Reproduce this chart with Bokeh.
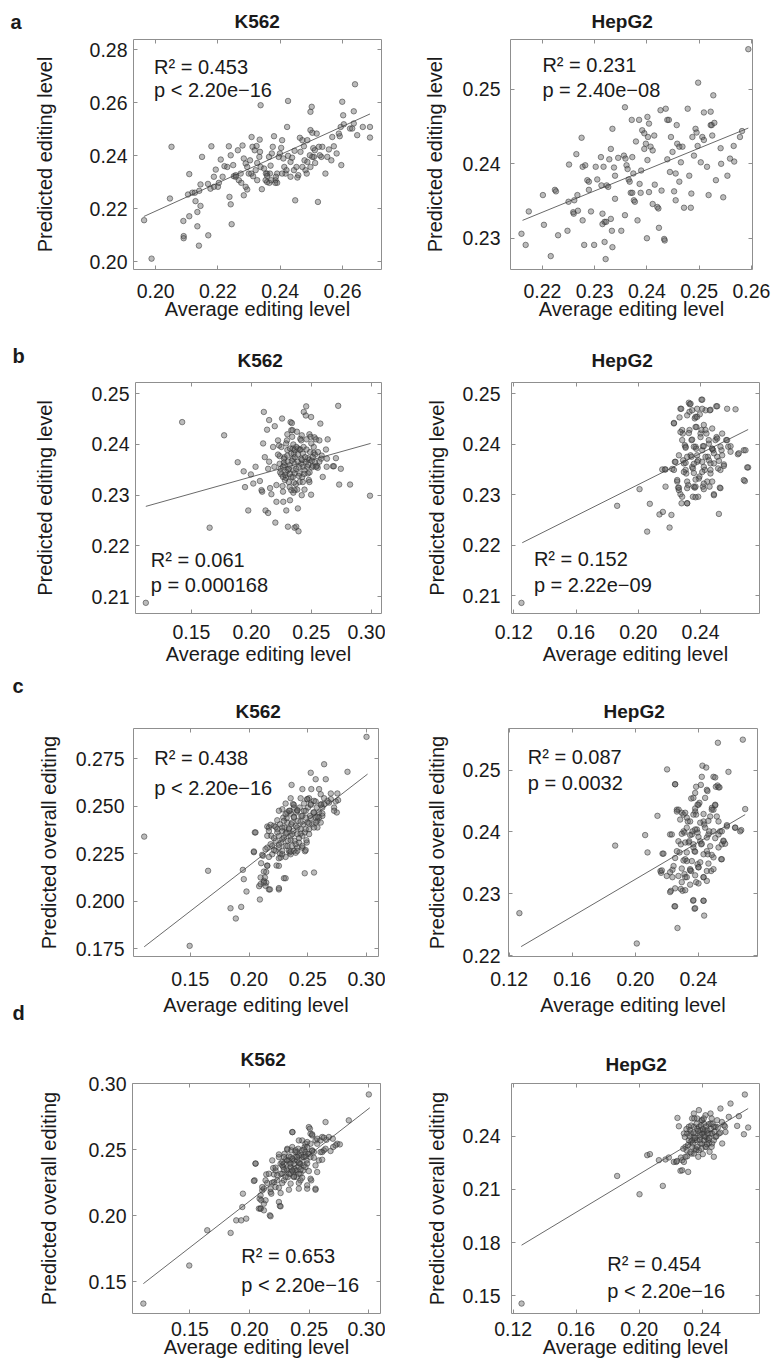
from bokeh.plotting import figure
from bokeh.models import LinearAxis, FixedTicker, PrintfTickFormatter, Label, Range1d
from bokeh.layouts import column, row
from bokeh.embed import file_html
from bokeh.resources import INLINE

FONT = "Liberation Sans"
TXT = "#1a1a1a"
GRAY = "#8f8f8f"

# ---------------- data (x = average editing level, y = predicted) ----------------
a_k562 = [(0.1963,0.2156),(0.1987,0.2011),(0.2051,0.2433),(0.2046,0.2238),(0.2089,0.2153),(0.2090,0.2096),(0.2090,0.2088),
(0.2108,0.2171),(0.2108,0.2330),(0.2104,0.2253),(0.2118,0.2260),(0.2128,0.2228),(0.2134,0.2187),(0.2134,0.2133),(0.2139,0.2060),
(0.2144,0.2210),(0.2144,0.2291),(0.2149,0.2395),(0.2169,0.2099),(0.2168,0.2293),(0.2179,0.2435),(0.2187,0.2320),(0.2193,0.2347),
(0.2200,0.2282),(0.2209,0.2385),(0.2215,0.2320),(0.2221,0.2360),(0.2235,0.2435),(0.2237,0.2244),(0.2241,0.2216),(0.2244,0.2141),
(0.2241,0.2401),(0.2249,0.2364),(0.2251,0.2322),(0.2257,0.2326),(0.2264,0.2420),(0.2273,0.2332),(0.2279,0.2438),(0.2283,0.2389),
(0.2289,0.2370),(0.2294,0.2357),(0.2283,0.2250),(0.2294,0.2272),(0.2303,0.2382),(0.2308,0.2470),(0.2311,0.2433),(0.2313,0.2322),
(0.2321,0.2345),(0.2326,0.2372),(0.2334,0.2460),(0.2333,0.2395),(0.2337,0.2357),(0.2341,0.2273),(0.2337,0.2590),(0.2353,0.2307),
(0.2358,0.2332),(0.2364,0.2395),(0.2369,0.2362),(0.2373,0.2408),(0.2376,0.2433),(0.2380,0.2473),(0.2367,0.2332),(0.2358,0.2300),
(0.2385,0.2307),(0.2390,0.2332),(0.2395,0.2395),(0.2399,0.2408),(0.2406,0.2458),(0.2410,0.2389),(0.2413,0.2357),(0.2417,0.2332),
(0.2390,0.2297),(0.2422,0.2508),(0.2425,0.2606),(0.2425,0.2399),(0.2433,0.2376),(0.2438,0.2392),(0.2444,0.2345),(0.2446,0.2418),
(0.2452,0.2357),(0.2458,0.2326),(0.2448,0.2231),(0.2463,0.2467),(0.2465,0.2414),(0.2471,0.2458),(0.2476,0.2435),(0.2478,0.2382),
(0.2481,0.2345),(0.2487,0.2458),(0.2495,0.2401),(0.2497,0.2496),(0.2497,0.2565),(0.2501,0.2584),(0.2503,0.2486),(0.2506,0.2428),
(0.2511,0.2420),(0.2517,0.2483),(0.2497,0.2357),(0.2512,0.2372),(0.2524,0.2433),(0.2532,0.2395),(0.2535,0.2433),(0.2521,0.2225),
(0.2545,0.2332),(0.2556,0.2423),(0.2567,0.2470),(0.2572,0.2435),(0.2564,0.2382),(0.2581,0.2408),(0.2591,0.2473),(0.2596,0.2364),
(0.2604,0.2518),(0.2624,0.2502),(0.2636,0.2521),(0.2640,0.2669),(0.2599,0.2603),(0.2602,0.2552),(0.2636,0.2567),(0.2647,0.2477),
(0.2665,0.2508),(0.2688,0.2508),(0.2688,0.2468),(0.2631,0.2502),(0.2267,0.2307),(0.2275,0.2297),(0.2299,0.2332),(0.2307,0.2332),
(0.2318,0.2420),(0.2324,0.2436),(0.2335,0.2414),(0.2348,0.2351),(0.2354,0.2332),(0.2365,0.2297),(0.2358,0.2323),(0.2386,0.2320),
(0.2403,0.2429),(0.2420,0.2345),(0.2384,0.2297),(0.2455,0.2317),(0.2485,0.2332),(0.2508,0.2395),(0.2527,0.2401),(0.2503,0.2395),
(0.2551,0.2395),(0.2588,0.2483),(0.2594,0.2508),(0.2187,0.2282),(0.2203,0.2297),(0.2230,0.2357),(0.2126,0.2260),(0.2140,0.2267),
(0.2176,0.2275),(0.2257,0.2320),(0.2289,0.2282),(0.2326,0.2307),(0.2371,0.2307),(0.2406,0.2332),(0.2433,0.2320),(0.2471,0.2357),
(0.2487,0.2376)]
a_k562_fit_x = [0.1962, 0.2688]
a_k562_fit_y = [0.2170, 0.2557]

a_hepg2 = [(0.2160,0.2306),(0.2168,0.2291),(0.2174,0.2336),(0.2201,0.2358),(0.2203,0.2318),(0.2216,0.2276),(0.2224,0.2365),
(0.2226,0.2363),(0.2230,0.2304),(0.2248,0.2310),(0.2250,0.2349),(0.2251,0.2399),(0.2259,0.2335),(0.2260,0.2333),(0.2261,0.2351),
(0.2265,0.2413),(0.2267,0.2358),(0.2268,0.2337),(0.2275,0.2435),(0.2277,0.2396),(0.2282,0.2398),(0.2277,0.2324),(0.2280,0.2291),
(0.2286,0.2378),(0.2289,0.2376),(0.2289,0.2365),(0.2293,0.2336),(0.2299,0.2291),(0.2302,0.2396),(0.2305,0.2379),(0.2312,0.2409),
(0.2313,0.2371),(0.2315,0.2333),(0.2315,0.2319),(0.2317,0.2396),(0.2319,0.2322),(0.2322,0.2322),(0.2319,0.2295),(0.2321,0.2272),
(0.2323,0.2371),(0.2326,0.2369),(0.2328,0.2406),(0.2331,0.2420),(0.2334,0.2447),(0.2331,0.2326),(0.2333,0.2310),(0.2334,0.2288),
(0.2337,0.2395),(0.2339,0.2384),(0.2339,0.2353),(0.2345,0.2408),(0.2351,0.2310),(0.2358,0.2476),(0.2356,0.2411),(0.2359,0.2407),
(0.2358,0.2331),(0.2361,0.2398),(0.2363,0.2393),(0.2365,0.2379),(0.2367,0.2376),(0.2369,0.2361),(0.2372,0.2361),(0.2371,0.2459),
(0.2372,0.2409),(0.2374,0.2387),(0.2375,0.2351),(0.2377,0.2349),(0.2379,0.2430),(0.2382,0.2324),(0.2385,0.2459),(0.2386,0.2373),
(0.2388,0.2361),(0.2389,0.2391),(0.2391,0.2445),(0.2395,0.2441),(0.2395,0.2420),(0.2398,0.2427),(0.2401,0.2463),(0.2401,0.2405),
(0.2402,0.2436),(0.2404,0.2454),(0.2404,0.2362),(0.2400,0.2300),(0.2407,0.2423),(0.2411,0.2418),(0.2411,0.2346),(0.2414,0.2438),
(0.2415,0.2372),(0.2420,0.2342),(0.2422,0.2340),(0.2423,0.2314),(0.2426,0.2472),(0.2428,0.2364),(0.2433,0.2299),(0.2434,0.2297),
(0.2436,0.2474),(0.2439,0.2459),(0.2442,0.2459),(0.2439,0.2406),(0.2444,0.2389),(0.2446,0.2436),(0.2449,0.2416),(0.2452,0.2363),
(0.2455,0.2351),(0.2455,0.2387),(0.2457,0.2452),(0.2458,0.2427),(0.2462,0.2423),(0.2462,0.2376),(0.2465,0.2402),(0.2468,0.2423),
(0.2471,0.2341),(0.2484,0.2341),(0.2478,0.2474),(0.2481,0.2384),(0.2485,0.2360),(0.2487,0.2436),(0.2490,0.2411),(0.2493,0.2447),
(0.2495,0.2442),(0.2497,0.2424),(0.2498,0.2509),(0.2503,0.2402),(0.2506,0.2436),(0.2509,0.2432),(0.2509,0.2469),(0.2515,0.2396),
(0.2518,0.2358),(0.2522,0.2470),(0.2522,0.2452),(0.2524,0.2452),(0.2525,0.2438),(0.2527,0.2492),(0.2529,0.2455),(0.2532,0.2378),
(0.2541,0.2421),(0.2542,0.2400),(0.2546,0.2355),(0.2554,0.2384),(0.2559,0.2407),(0.2566,0.2424),(0.2567,0.2403),(0.2578,0.2436),
(0.2582,0.2444),(0.2594,0.2554)]
a_hepg2_fit_x = [0.2162, 0.2594]
a_hepg2_fit_y = [0.2324, 0.2448]

b_k562 = [(0.1120,0.2088),(0.1423,0.2444),(0.1652,0.2236),(0.1773,0.2418),(0.1886,0.2365),(0.1936,0.2347),(0.1947,0.2316),
(0.1974,0.2270),(0.1996,0.2341),(0.2016,0.2323),(0.2035,0.2356),(0.2071,0.2328),(0.2085,0.2310),(0.2090,0.2307),(0.2098,0.2402),
(0.2104,0.2464),(0.2112,0.2375),(0.2118,0.2270),(0.2131,0.2429),(0.2140,0.2265),(0.2140,0.2352),(0.2148,0.2366),(0.2148,0.2448),
(0.2156,0.2314),(0.2167,0.2302),(0.2181,0.2395),(0.2192,0.2356),(0.2195,0.2436),(0.2200,0.2246),(0.2209,0.2320),(0.2209,0.2287),
(0.2222,0.2408),(0.2231,0.2398),(0.2236,0.2362),(0.2244,0.2352),(0.2250,0.2341),(0.2256,0.2451),(0.2264,0.2307),(0.2266,0.2287),
(0.2272,0.2364),(0.2277,0.2359),(0.2283,0.2340),(0.2288,0.2334),(0.2291,0.2270),(0.2297,0.2408),(0.2300,0.2389),(0.2305,0.2238),
(0.2311,0.2326),(0.2319,0.2316),(0.2322,0.2290),(0.2327,0.2444),(0.2338,0.2442),(0.2333,0.2428),(0.2344,0.2428),(0.2346,0.2392),
(0.2355,0.2382),(0.2352,0.2349),(0.2360,0.2343),(0.2360,0.2236),(0.2374,0.2238),(0.2371,0.2322),(0.2382,0.2311),(0.2388,0.2274),
(0.2393,0.2229),(0.2402,0.2390),(0.2408,0.2411),(0.2415,0.2408),(0.2415,0.2362),(0.2429,0.2356),(0.2424,0.2336),(0.2437,0.2464),
(0.2443,0.2311),(0.2454,0.2457),(0.2457,0.2475),(0.2465,0.2356),(0.2471,0.2373),(0.2479,0.2330),(0.2484,0.2326),(0.2484,0.2420),
(0.2493,0.2415),(0.2498,0.2454),(0.2498,0.2301),(0.2506,0.2355),(0.2512,0.2358),(0.2520,0.2383),(0.2531,0.2380),(0.2526,0.2414),
(0.2539,0.2410),(0.2548,0.2358),(0.2553,0.2354),(0.2567,0.2408),(0.2575,0.2441),(0.2581,0.2372),(0.2586,0.2378),(0.2595,0.2336),
(0.2622,0.2390),(0.2628,0.2356),(0.2630,0.2372),(0.2636,0.2410),(0.2680,0.2357),(0.2688,0.2357),(0.2705,0.2373),(0.2724,0.2476),
(0.2732,0.2321),(0.2746,0.2352),(0.2823,0.2321),(0.2989,0.2299),(0.2236,0.2377),(0.2264,0.2356),(0.2277,0.2375),(0.2305,0.2366),
(0.2333,0.2382),(0.2346,0.2372),(0.2360,0.2362),(0.2374,0.2352),(0.2388,0.2366),(0.2402,0.2343),(0.2415,0.2372),(0.2429,0.2382),
(0.2443,0.2349),(0.2457,0.2366),(0.2471,0.2343),(0.2333,0.2336),(0.2305,0.2349),(0.2291,0.2346),(0.2264,0.2336),(0.2360,0.2389),
(0.2388,0.2392),(0.2319,0.2359),(0.2346,0.2336),(0.2402,0.2326),(0.2429,0.2326),(0.2484,0.2370),(0.2512,0.2375),(0.2539,0.2356),
(0.2567,0.2366),(0.2333,0.2310),(0.2360,0.2310)]
b_k562_core = [(0.2222,0.2380),(0.2250,0.2395),(0.2272,0.2372),(0.2290,0.2402),(0.2300,0.2378),(0.2311,0.2352),(0.2322,0.2392),
(0.2338,0.2368),(0.2350,0.2400),(0.2362,0.2375),(0.2375,0.2395),(0.2388,0.2380),(0.2398,0.2355),(0.2410,0.2390),(0.2422,0.2370),
(0.2435,0.2395),(0.2448,0.2375),(0.2460,0.2390),(0.2475,0.2360),(0.2490,0.2385),(0.2505,0.2368),(0.2520,0.2395),(0.2240,0.2345),
(0.2280,0.2330),(0.2320,0.2342),(0.2355,0.2325),(0.2395,0.2338),(0.2440,0.2342),(0.2485,0.2345),(0.2530,0.2365),(0.2300,0.2420),
(0.2340,0.2415),(0.2380,0.2425),(0.2420,0.2418),(0.2460,0.2410),(0.2500,0.2402),(0.2260,0.2318),(0.2350,0.2305),(0.2420,0.2300),
(0.2555,0.2385)]
b_k562_fit_x = [0.1120, 0.2994]
b_k562_fit_y = [0.2278, 0.2402]

b_hepg2 = [(0.1249,0.2086),(0.1864,0.2278),(0.2008,0.2311),(0.2074,0.2282),(0.2057,0.2227),(0.2136,0.2261),(0.2158,0.2266),
(0.2171,0.2350),(0.2154,0.2350),(0.2201,0.2235),(0.2213,0.2260),(0.2229,0.2442),(0.2218,0.2351),(0.2235,0.2365),(0.2250,0.2326),
(0.2256,0.2314),(0.2261,0.2309),(0.2265,0.2453),(0.2271,0.2470),(0.2271,0.2301),(0.2278,0.2283),(0.2282,0.2428),(0.2286,0.2421),
(0.2288,0.2368),(0.2293,0.2362),(0.2299,0.2398),(0.2304,0.2395),(0.2304,0.2349),(0.2308,0.2342),(0.2314,0.2283),(0.2321,0.2319),
(0.2325,0.2482),(0.2331,0.2479),(0.2329,0.2428),(0.2329,0.2464),(0.2336,0.2378),(0.2342,0.2375),(0.2342,0.2408),(0.2346,0.2355),
(0.2351,0.2352),(0.2351,0.2296),(0.2357,0.2316),(0.2363,0.2314),(0.2363,0.2451),(0.2368,0.2454),(0.2368,0.2395),(0.2372,0.2391),
(0.2374,0.2434),(0.2378,0.2470),(0.2378,0.2365),(0.2385,0.2368),(0.2385,0.2296),(0.2389,0.2332),(0.2393,0.2336),(0.2400,0.2421),
(0.2406,0.2428),(0.2406,0.2488),(0.2411,0.2388),(0.2415,0.2396),(0.2415,0.2316),(0.2421,0.2355),(0.2428,0.2349),(0.2432,0.2467),
(0.2432,0.2428),(0.2438,0.2421),(0.2443,0.2326),(0.2447,0.2375),(0.2454,0.2368),(0.2454,0.2401),(0.2458,0.2316),(0.2464,0.2468),
(0.2464,0.2349),(0.2475,0.2391),(0.2481,0.2388),(0.2486,0.2301),(0.2486,0.2362),(0.2496,0.2408),(0.2503,0.2414),(0.2501,0.2475),
(0.2507,0.2375),(0.2513,0.2352),(0.2518,0.2262),(0.2524,0.2314),(0.2535,0.2388),(0.2550,0.2360),(0.2565,0.2408),(0.2578,0.2395),
(0.2593,0.2396),(0.2625,0.2469),(0.2640,0.2380),(0.2678,0.2388),(0.2685,0.2327),(0.2706,0.2354)]
b_hepg2_core = [(0.2336,0.2480),(0.2411,0.2488),(0.2276,0.2470),(0.2346,0.2467),(0.2411,0.2470),(0.2460,0.2467),(0.2507,0.2475),
(0.2571,0.2470),(0.2229,0.2441),(0.2314,0.2457),(0.2378,0.2454),(0.2395,0.2459),(0.2271,0.2424),(0.2325,0.2422),(0.2368,0.2434),
(0.2421,0.2438),(0.2475,0.2431),(0.2539,0.2421),(0.2282,0.2408),(0.2346,0.2409),(0.2400,0.2414),(0.2453,0.2408),(0.2507,0.2411),
(0.2571,0.2408),(0.2304,0.2393),(0.2357,0.2395),(0.2421,0.2396),(0.2475,0.2391),(0.2528,0.2395),(0.2261,0.2378),(0.2314,0.2375),
(0.2378,0.2378),(0.2432,0.2375),(0.2486,0.2382),(0.2539,0.2378),(0.2593,0.2385),(0.2646,0.2382),(0.2689,0.2388),(0.2239,0.2365),
(0.2304,0.2363),(0.2357,0.2361),(0.2411,0.2365),(0.2464,0.2362),(0.2518,0.2367),(0.2550,0.2357),(0.2175,0.2350),(0.2229,0.2349),
(0.2293,0.2345),(0.2357,0.2343),(0.2411,0.2345),(0.2464,0.2342),(0.2528,0.2349),(0.2700,0.2354),(0.2250,0.2329),(0.2314,0.2326),
(0.2368,0.2330),(0.2421,0.2322),(0.2475,0.2326),(0.2175,0.2316),(0.2261,0.2314),(0.2314,0.2313),(0.2368,0.2316),(0.2421,0.2311),
(0.2528,0.2313),(0.2678,0.2329),(0.2282,0.2296),(0.2368,0.2295),(0.2486,0.2299),(0.2314,0.2283)]
b_hepg2_fit_x = [0.1254, 0.2706]
b_hepg2_fit_y = [0.2205, 0.2429]

c_k562 = [(0.1107,0.2339),(0.1494,0.1764),(0.1651,0.2159),(0.1842,0.1962),(0.1933,0.1969),(0.1887,0.1908),(0.1947,0.2164),
(0.1955,0.2115),(0.1978,0.2050),(0.2049,0.2361),(0.2041,0.2257),(0.2092,0.2008),(0.2086,0.2078),(0.2098,0.2089),(0.2103,0.2199),
(0.2118,0.2238),(0.2126,0.2106),(0.2135,0.2124),(0.2140,0.2080),(0.2146,0.2097),(0.2146,0.2153),(0.2155,0.2187),(0.2169,0.2061),
(0.2178,0.2061),(0.2155,0.2392),(0.2197,0.2290),(0.2234,0.2187),(0.2254,0.2061),(0.2263,0.2250),(0.2269,0.2229),(0.2297,0.2120),
(0.2320,0.2436),(0.2354,0.2460),(0.2362,0.2611),(0.2382,0.2264),(0.2397,0.2254),(0.2411,0.2475),(0.2454,0.2589),(0.2474,0.2146),
(0.2476,0.2262),(0.2496,0.2536),(0.2511,0.2541),(0.2525,0.2675),(0.2553,0.2150),(0.2530,0.2589),(0.2567,0.2641),(0.2596,0.2589),
(0.2639,0.2720),(0.2653,0.2641),(0.2616,0.2510),(0.2624,0.2492),(0.2681,0.2518),(0.2696,0.2536),(0.2724,0.2492),(0.2747,0.2466),
(0.2752,0.2566),(0.2758,0.2531),(0.2838,0.2680),(0.3000,0.2864),(0.2610,0.2562),(0.2596,0.2439),(0.2582,0.2422),(0.2169,0.2387),
(0.2189,0.2343),(0.2212,0.2396),(0.2226,0.2317),(0.2240,0.2378),(0.2254,0.2343),(0.2263,0.2404),(0.2274,0.2308),(0.2283,0.2369),
(0.2291,0.2439),(0.2297,0.2334),(0.2303,0.2387),(0.2311,0.2290),(0.2320,0.2361),(0.2325,0.2413),(0.2331,0.2317),(0.2340,0.2378),
(0.2345,0.2255),(0.2348,0.2475),(0.2354,0.2343),(0.2360,0.2404),(0.2368,0.2290),(0.2374,0.2510),(0.2377,0.2369),(0.2382,0.2439),
(0.2388,0.2317),(0.2397,0.2396),(0.2402,0.2466),(0.2411,0.2352),(0.2417,0.2422),(0.2425,0.2308),(0.2431,0.2492),(0.2439,0.2378),
(0.2445,0.2448),(0.2454,0.2343),(0.2462,0.2404),(0.2468,0.2475),(0.2474,0.2361),(0.2482,0.2439),(0.2491,0.2308),(0.2496,0.2413),
(0.2502,0.2492),(0.2511,0.2378),(0.2519,0.2448),(0.2525,0.2510),(0.2539,0.2404),(0.2548,0.2466),(0.2553,0.2527),(0.2567,0.2439),
(0.2576,0.2492),(0.2582,0.2387),(0.2596,0.2466),(0.2624,0.2448),(0.2639,0.2510),(0.2667,0.2527),(0.2340,0.2264),(0.2354,0.2246),
(0.2283,0.2246),(0.2254,0.2281),(0.2226,0.2264),(0.2197,0.2246),(0.2155,0.2281),(0.2411,0.2281),(0.2454,0.2281),(0.2325,0.2466),
(0.2382,0.2492)]
c_k562_core = [(0.2696,0.2566),(0.2354,0.2541),(0.2439,0.2541),(0.2496,0.2536),(0.2567,0.2524),(0.2639,0.2541),(0.2738,0.2524),
(0.2311,0.2513),(0.2382,0.2506),(0.2468,0.2513),(0.2525,0.2506),(0.2610,0.2506),(0.2283,0.2483),(0.2340,0.2475),(0.2411,0.2478),
(0.2482,0.2475),(0.2553,0.2466),(0.2624,0.2461),(0.2724,0.2475),(0.2254,0.2475),(0.2311,0.2457),(0.2382,0.2443),(0.2454,0.2448),
(0.2525,0.2436),(0.2582,0.2443),(0.2240,0.2425),(0.2297,0.2422),(0.2368,0.2413),(0.2439,0.2418),(0.2511,0.2408),(0.2567,0.2413),
(0.2183,0.2401),(0.2226,0.2390),(0.2283,0.2387),(0.2340,0.2383),(0.2411,0.2387),(0.2482,0.2378),(0.2553,0.2387),(0.2610,0.2413),
(0.2169,0.2369),(0.2240,0.2361),(0.2311,0.2355),(0.2368,0.2352),(0.2439,0.2355),(0.2511,0.2352),(0.2055,0.2361),(0.2155,0.2343),
(0.2212,0.2331),(0.2283,0.2325),(0.2354,0.2320),(0.2425,0.2331),(0.2488,0.2320),(0.2183,0.2299),(0.2254,0.2296),(0.2326,0.2290),
(0.2397,0.2299),(0.2454,0.2290),(0.2140,0.2273),(0.2212,0.2268),(0.2283,0.2264),(0.2354,0.2261),(0.2411,0.2264),(0.2482,0.2268),
(0.2041,0.2261),(0.2112,0.2243),(0.2169,0.2232),(0.2254,0.2225),(0.2311,0.2232),(0.2155,0.2185),(0.2254,0.2185),(0.2126,0.2155),
(0.2098,0.2124),(0.2311,0.2120),(0.2126,0.2097),(0.2254,0.2068)]
c_k562_fit_x = [0.1107, 0.3009]
c_k562_fit_y = [0.1759, 0.2668]

c_hepg2 = [(0.1265,0.2269),(0.1872,0.2378),(0.2009,0.2220),(0.2062,0.2395),(0.2077,0.2367),(0.2140,0.2426),(0.2172,0.2365),
(0.2163,0.2334),(0.2159,0.2337),(0.2201,0.2501),(0.2220,0.2396),(0.2225,0.2305),(0.2235,0.2327),(0.2235,0.2339),(0.2248,0.2280),
(0.2252,0.2477),(0.2263,0.2436),(0.2274,0.2436),(0.2267,0.2245),(0.2273,0.2385),(0.2280,0.2367),(0.2288,0.2380),(0.2288,0.2308),
(0.2299,0.2305),(0.2294,0.2431),(0.2305,0.2428),(0.2305,0.2401),(0.2311,0.2399),(0.2311,0.2332),(0.2316,0.2327),(0.2316,0.2356),
(0.2326,0.2353),(0.2326,0.2423),(0.2332,0.2417),(0.2337,0.2383),(0.2341,0.2385),(0.2347,0.2340),(0.2354,0.2337),(0.2354,0.2454),
(0.2358,0.2396),(0.2362,0.2401),(0.2366,0.2289),(0.2368,0.2375),(0.2375,0.2369),(0.2375,0.2276),(0.2379,0.2463),(0.2379,0.2433),
(0.2385,0.2428),(0.2385,0.2319),(0.2390,0.2404),(0.2394,0.2399),(0.2394,0.2348),(0.2400,0.2343),(0.2400,0.2444),(0.2406,0.2447),
(0.2411,0.2385),(0.2417,0.2380),(0.2415,0.2476),(0.2421,0.2489),(0.2425,0.2507),(0.2432,0.2417),(0.2436,0.2412),(0.2432,0.2327),
(0.2432,0.2289),(0.2436,0.2265),(0.2442,0.2455),(0.2449,0.2504),(0.2453,0.2468),(0.2453,0.2369),(0.2459,0.2364),(0.2463,0.2396),
(0.2468,0.2401),(0.2474,0.2425),(0.2480,0.2337),(0.2485,0.2439),(0.2495,0.2436),(0.2495,0.2489),(0.2506,0.2488),(0.2495,0.2359),
(0.2506,0.2444),(0.2510,0.2473),(0.2527,0.2472),(0.2523,0.2544),(0.2527,0.2396),(0.2537,0.2401),(0.2544,0.2356),(0.2548,0.2380),
(0.2559,0.2385),(0.2569,0.2381),(0.2580,0.2409),(0.2590,0.2497),(0.2632,0.2407),(0.2671,0.2403),(0.2681,0.2549),(0.2696,0.2437)]
c_hepg2_core = [(0.2252,0.2477),(0.2385,0.2473),(0.2457,0.2466),(0.2521,0.2475),(0.2533,0.2472),(0.2368,0.2455),(0.2394,0.2444),
(0.2379,0.2438),(0.2506,0.2443),(0.2484,0.2436),(0.2263,0.2433),(0.2316,0.2431),(0.2368,0.2428),(0.2432,0.2429),(0.2516,0.2425),
(0.2284,0.2420),(0.2347,0.2417),(0.2411,0.2415),(0.2463,0.2418),(0.2527,0.2417),(0.2580,0.2411),(0.2633,0.2407),(0.2664,0.2401),
(0.2326,0.2407),(0.2379,0.2404),(0.2442,0.2407),(0.2495,0.2401),(0.2548,0.2401),(0.2231,0.2396),(0.2294,0.2397),(0.2347,0.2395),
(0.2400,0.2392),(0.2453,0.2391),(0.2506,0.2390),(0.2558,0.2386),(0.2316,0.2383),(0.2368,0.2380),(0.2421,0.2381),(0.2474,0.2377),
(0.2527,0.2375),(0.2263,0.2369),(0.2326,0.2367),(0.2379,0.2368),(0.2432,0.2364),(0.2484,0.2363),(0.2548,0.2356),(0.2178,0.2365),
(0.2252,0.2358),(0.2305,0.2354),(0.2358,0.2353),(0.2411,0.2351),(0.2463,0.2349),(0.2242,0.2345),(0.2294,0.2341),(0.2347,0.2338),
(0.2400,0.2343),(0.2453,0.2337),(0.2495,0.2340),(0.2168,0.2338),(0.2220,0.2335),(0.2199,0.2329),(0.2273,0.2329),(0.2326,0.2327),
(0.2379,0.2330),(0.2432,0.2327),(0.2294,0.2319),(0.2347,0.2315),(0.2400,0.2317),(0.2453,0.2321),(0.2252,0.2309),(0.2316,0.2306),
(0.2220,0.2303),(0.2368,0.2290),(0.2432,0.2289),(0.2252,0.2280),(0.2379,0.2277)]
c_hepg2_fit_x = [0.1276, 0.2696]
c_hepg2_fit_y = [0.2215, 0.2428]

d_k562 = [(0.1109,0.1336),(0.1494,0.1624),(0.1645,0.1891),(0.1841,0.1871),(0.1888,0.1966),(0.1930,0.1966),(0.1972,0.1979),
(0.1944,0.2168),(0.1939,0.2067),(0.2042,0.2269),(0.2050,0.2395),(0.2078,0.2055),(0.2092,0.2055),(0.2084,0.2130),(0.2098,0.2118),
(0.2106,0.2193),(0.2120,0.2206),(0.2120,0.2092),(0.2140,0.2314),(0.2148,0.2249),(0.2170,0.2004),(0.2176,0.2181),(0.2182,0.2168),
(0.2190,0.2251),(0.2198,0.2362),(0.2204,0.2314),(0.2218,0.2344),(0.2218,0.2218),(0.2254,0.2075),(0.2232,0.2269),(0.2246,0.2445),
(0.2260,0.2395),(0.2274,0.2319),(0.2282,0.2370),(0.2288,0.2269),(0.2293,0.2470),(0.2302,0.2425),(0.2310,0.2357),(0.2316,0.2508),
(0.2321,0.2294),(0.2330,0.2319),(0.2338,0.2395),(0.2344,0.2445),(0.2349,0.2496),(0.2358,0.2521),(0.2360,0.2634),(0.2366,0.2332),
(0.2372,0.2357),(0.2377,0.2420),(0.2385,0.2445),(0.2394,0.2294),(0.2399,0.2483),(0.2408,0.2508),(0.2413,0.2370),(0.2422,0.2395),
(0.2427,0.2269),(0.2433,0.2458),(0.2441,0.2445),(0.2441,0.2571),(0.2450,0.2344),(0.2455,0.2382),(0.2461,0.2521),(0.2469,0.2546),
(0.2478,0.2420),(0.2483,0.2206),(0.2489,0.2470),(0.2497,0.2672),(0.2506,0.2660),(0.2511,0.2622),(0.2525,0.2609),(0.2517,0.2269),
(0.2525,0.2496),(0.2539,0.2483),(0.2553,0.2206),(0.2553,0.2571),(0.2567,0.2584),(0.2581,0.2420),(0.2595,0.2571),(0.2609,0.2597),
(0.2609,0.2483),(0.2623,0.2496),(0.2637,0.2710),(0.2645,0.2576),(0.2665,0.2597),(0.2701,0.2521),(0.2735,0.2546),(0.2757,0.2541),
(0.2832,0.2723),(0.3000,0.2919),(0.2260,0.2319),(0.2288,0.2395),(0.2316,0.2344),(0.2330,0.2420),(0.2344,0.2370),(0.2358,0.2433),
(0.2372,0.2395),(0.2385,0.2344),(0.2399,0.2420),(0.2413,0.2458),(0.2427,0.2395),(0.2441,0.2496),(0.2455,0.2445),(0.2469,0.2483),
(0.2483,0.2521),(0.2497,0.2470),(0.2511,0.2546),(0.2316,0.2420),(0.2344,0.2319),(0.2372,0.2294),(0.2399,0.2344),(0.2288,0.2445),
(0.2274,0.2382),(0.2427,0.2319),(0.2385,0.2483),(0.2413,0.2319),(0.2469,0.2370),(0.2511,0.2445)]
d_k562_core = [(0.2358,0.2634),(0.2525,0.2617),(0.2623,0.2592),(0.2698,0.2584),(0.2413,0.2571),(0.2483,0.2559),(0.2567,0.2546),
(0.2721,0.2534),(0.2637,0.2508),(0.2316,0.2501),(0.2385,0.2496),(0.2455,0.2501),(0.2525,0.2491),(0.2595,0.2483),(0.2679,0.2491),
(0.2246,0.2465),(0.2330,0.2450),(0.2399,0.2445),(0.2469,0.2450),(0.2539,0.2440),(0.2609,0.2425),(0.2190,0.2420),(0.2274,0.2407),
(0.2344,0.2397),(0.2413,0.2402),(0.2483,0.2397),(0.2553,0.2382),(0.2050,0.2397),(0.2218,0.2365),(0.2288,0.2350),(0.2358,0.2344),
(0.2427,0.2350),(0.2497,0.2339),(0.2567,0.2332),(0.2162,0.2319),(0.2232,0.2307),(0.2302,0.2294),(0.2372,0.2299),(0.2441,0.2289),
(0.2511,0.2281),(0.2134,0.2269),(0.2204,0.2256),(0.2274,0.2249),(0.2344,0.2244),(0.2413,0.2249),(0.2483,0.2231),(0.2036,0.2264),
(0.2106,0.2218),(0.2176,0.2206),(0.2246,0.2213),(0.2330,0.2198),(0.2413,0.2206),(0.2553,0.2198),(0.2260,0.2173),(0.2092,0.2155),
(0.2134,0.2118),(0.2246,0.2105),(0.2092,0.2055),(0.2120,0.2042),(0.2260,0.2072),(0.2176,0.1997)]
d_k562_fit_x = [0.1109, 0.3008]
d_k562_fit_y = [0.1487, 0.2818]

d_hepg2 = [(0.1253,0.1457),(0.1860,0.2176),(0.2002,0.2073),(0.2051,0.2293),(0.2068,0.2299),(0.2150,0.2120),(0.2125,0.2265),
(0.2167,0.2269),(0.2188,0.2280),(0.2220,0.2255),(0.2235,0.2255),(0.2243,0.2503),(0.2252,0.2456),(0.2262,0.2205),(0.2273,0.2208),
(0.2273,0.2265),(0.2284,0.2255),(0.2284,0.2415),(0.2290,0.2396),(0.2294,0.2340),(0.2301,0.2321),(0.2305,0.2287),(0.2311,0.2199),
(0.2315,0.2453),(0.2322,0.2434),(0.2326,0.2368),(0.2332,0.2302),(0.2336,0.2500),(0.2347,0.2528),(0.2347,0.2396),(0.2353,0.2377),
(0.2358,0.2330),(0.2362,0.2321),(0.2368,0.2443),(0.2375,0.2284),(0.2379,0.2547),(0.2383,0.2415),(0.2389,0.2396),(0.2396,0.2490),
(0.2400,0.2359),(0.2404,0.2299),(0.2411,0.2424),(0.2417,0.2434),(0.2421,0.2518),(0.2425,0.2340),(0.2432,0.2387),(0.2438,0.2377),
(0.2442,0.2468),(0.2447,0.2312),(0.2453,0.2528),(0.2453,0.2415),(0.2463,0.2359),(0.2474,0.2377),(0.2474,0.2284),(0.2485,0.2453),
(0.2495,0.2490),(0.2506,0.2415),(0.2516,0.2556),(0.2527,0.2359),(0.2538,0.2462),(0.2548,0.2424),(0.2569,0.2509),(0.2580,0.2584),
(0.2622,0.2458),(0.2633,0.2513),(0.2665,0.2411),(0.2671,0.2635),(0.2692,0.2449),(0.2305,0.2415),(0.2315,0.2377),(0.2326,0.2415),
(0.2336,0.2377),(0.2347,0.2453),(0.2358,0.2415),(0.2368,0.2377),(0.2379,0.2453),(0.2389,0.2359),(0.2400,0.2415),(0.2411,0.2471),
(0.2421,0.2396),(0.2432,0.2434),(0.2442,0.2359),(0.2453,0.2471),(0.2463,0.2415),(0.2474,0.2453),(0.2485,0.2396),(0.2336,0.2340),
(0.2379,0.2321),(0.2400,0.2490),(0.2368,0.2500),(0.2421,0.2340),(0.2389,0.2434),(0.2347,0.2302),(0.2411,0.2377),(0.2294,0.2284)]
d_hepg2_core = [(0.2300,0.2440),(0.2320,0.2400),(0.2330,0.2460),(0.2345,0.2420),(0.2355,0.2390),(0.2365,0.2470),(0.2375,0.2430),
(0.2385,0.2380),(0.2392,0.2460),(0.2405,0.2440),(0.2415,0.2400),(0.2425,0.2455),(0.2435,0.2415),(0.2445,0.2390),(0.2455,0.2440),
(0.2465,0.2470),(0.2478,0.2425),(0.2490,0.2400),(0.2500,0.2450),(0.2515,0.2420),(0.2340,0.2360),(0.2370,0.2340),(0.2395,0.2330),
(0.2430,0.2355),(0.2460,0.2340),(0.2310,0.2350),(0.2280,0.2330),(0.2350,0.2500),(0.2410,0.2500),(0.2460,0.2500),(0.2525,0.2480),
(0.2545,0.2455),(0.2265,0.2280),(0.2240,0.2260),(0.2325,0.2310)]
d_hepg2_fit_x = [0.1253, 0.2692]
d_hepg2_fit_y = [0.1786, 0.2556]

# ticks
ticks_x_k562_a = [0.20, 0.22, 0.24, 0.26]
ticks_y_k562_a = [0.20, 0.22, 0.24, 0.26, 0.28]
ticks_x_hepg2_a = [0.22, 0.23, 0.24, 0.25, 0.26]
ticks_y_hepg2_a = [0.23, 0.24, 0.25]
ticks_x_k562_bcd = [0.15, 0.20, 0.25, 0.30]
ticks_x_hepg2_bcd = [0.12, 0.16, 0.20, 0.24]
ticks_y_b = [0.21, 0.22, 0.23, 0.24, 0.25]
ticks_y_k562_c = [0.175, 0.200, 0.225, 0.250, 0.275]
ticks_y_hepg2_c = [0.22, 0.23, 0.24, 0.25]
ticks_y_k562_d = [0.15, 0.20, 0.25, 0.30]
ticks_y_hepg2_d = [0.15, 0.18, 0.21, 0.24]

panel_letters = ["a", "b", "c", "d"]

XLABEL = "Average editing level"
YLAB1 = "Predicted editing level"
YLAB2 = "Predicted overall editing"


def mk_axis(ticks, fmt, label=None, lstd=0, astd=0, show=True):
    ax = LinearAxis(ticker=FixedTicker(ticks=ticks), formatter=PrintfTickFormatter(format=fmt))
    ax.axis_line_color = None
    ax.major_tick_in = 4
    ax.major_tick_out = 0
    ax.minor_tick_in = 0
    ax.minor_tick_out = 0
    ax.major_tick_line_color = GRAY
    if show:
        ax.axis_label = label
        ax.axis_label_text_font = FONT
        ax.axis_label_text_font_size = "20px"
        ax.axis_label_text_font_style = "normal"
        ax.axis_label_text_color = TXT
        ax.major_label_text_font = FONT
        ax.major_label_text_font_size = "19.5px"
        ax.major_label_text_color = TXT
        ax.major_label_standoff = lstd
        ax.axis_label_standoff = astd
    else:
        ax.major_label_text_font_size = "1px"
        ax.major_label_text_color = None
        ax.major_label_standoff = 0
    return ax


def make_panel(title, pts, fx, fy, xr, yr, xt, yt, yfmt, ylabel, stats, sxy,
               w, h, borders, ystd, xstd, title_std, title_off):
    bl, br, bt, bb = borders
    p = figure(width=w, height=h, x_range=Range1d(*xr), y_range=Range1d(*yr),
               output_backend="svg", toolbar_location=None,
               x_axis_location=None, y_axis_location=None,
               min_border_left=bl, min_border_right=br, min_border_top=bt, min_border_bottom=bb,
               background_fill_color="white", border_fill_color="white",
               outline_line_color=GRAY, outline_line_width=1, title=title)
    p.title.align = "left"
    p.title.offset = title_off
    p.title.text_font = FONT
    p.title.text_font_size = "19px"
    p.title.text_font_style = "bold"
    p.title.text_color = TXT
    p.title.standoff = title_std
    p.grid.visible = False
    p.add_layout(mk_axis(xt, "%.2f", XLABEL, xstd[0], xstd[1]), "below")
    p.add_layout(mk_axis(yt, yfmt, ylabel, ystd[0], ystd[1]), "left")
    p.add_layout(mk_axis(xt, "%.2f", show=False), "above")
    p.add_layout(mk_axis(yt, yfmt, show=False), "right")
    xs = [q[0] for q in pts]
    ys = [q[1] for q in pts]
    p.line(fx, fy, line_color="#6a6a6a", line_width=1)
    p.scatter(xs, ys, marker="circle", size=5.5, fill_color="#5e5e5e", fill_alpha=0.42,
              line_color="#2e2e2e", line_alpha=0.7, line_width=0.75)
    for txt, yy in zip(stats, sxy[1:]):
        p.add_layout(Label(x=sxy[0], y=yy, text=txt, text_font=FONT, text_font_size="20px",
                           text_color=TXT, text_baseline="middle", text_align="left"))
    return p


# narrow strip holding the panel letters (page pixel coordinates, y downward)
strip = figure(width=30, height=1362, x_range=Range1d(0, 30), y_range=Range1d(1362, 0),
               output_backend="svg", toolbar_location=None, x_axis_location=None, y_axis_location=None,
               min_border=0, outline_line_color=None, background_fill_color="white",
               border_fill_color="white")
strip.grid.visible = False
for t, lx, ly in zip(panel_letters, [10, 12, 12, 12], [21, 355, 685, 1012]):
    strip.add_layout(Label(x=lx, y=ly, text=t, text_font=FONT, text_font_size="20px",
                           text_font_style="bold", text_color=TXT, text_baseline="alphabetic",
                           text_align="left"))

pa1 = make_panel("K562", a_k562, a_k562_fit_x, a_k562_fit_y, (0.1929, 0.2725), (0.197, 0.2838),
                 ticks_x_k562_a, ticks_y_k562_a, "%.2f", YLAB1, ("R² = 0.453", "p < 2.20e−16"),
                 (0.1995, 0.2735, 0.2647), 355, 326, (103, 4, 39, 57), (6, 31), (14, -3), 16, 101)
pa2 = make_panel("HepG2", a_hepg2, a_hepg2_fit_x, a_hepg2_fit_y, (0.2139, 0.2602), (0.2258, 0.2567),
                 ticks_x_hepg2_a, ticks_y_hepg2_a, "%.2f", YLAB1, ("R² = 0.231", "p = 2.40e−08"),
                 (0.2200, 0.2533, 0.2499), 386, 326, (125, 19, 39, 57), (10, 14), (14, -3), 16, 81)
pb1 = make_panel("K562", b_k562 + b_k562_core, b_k562_fit_x, b_k562_fit_y, (0.1034, 0.3085), (0.2067, 0.2522),
                 ticks_x_k562_bcd, ticks_y_b, "%.2f", YLAB1, ("R² = 0.061", "p = 0.000168"),
                 (0.1161, 0.2173, 0.2123), 355, 343, (103, 4, 56, 56), (6, 33), (11, 1), 23, 102)
pb2 = make_panel("HepG2", b_hepg2 + b_hepg2_core, b_hepg2_fit_x, b_hepg2_fit_y, (0.1185, 0.2779), (0.2065, 0.2522),
                 ticks_x_hepg2_bcd, ticks_y_b, "%.2f", YLAB1, ("R² = 0.152", "p = 2.22e−09"),
                 (0.1329, 0.2172, 0.2122), 386, 343, (126, 12, 56, 56), (11, 12), (11, 1), 23, 80)
pc1 = make_panel("K562", c_k562 + c_k562_core, c_k562_fit_x, c_k562_fit_y, (0.1016, 0.3102), (0.1708, 0.2908),
                 ticks_x_k562_bcd, ticks_y_k562_c, "%.3f", YLAB2, ("R² = 0.438", "p < 2.20e−16"),
                 (0.1193, 0.2755, 0.2594), 355, 351, (103, 7, 59, 64), (9, 13), (15, 5), 13, 102)
pc2 = make_panel("HepG2", c_hepg2 + c_hepg2_core, c_hepg2_fit_x, c_hepg2_fit_y, (0.1196, 0.2774), (0.2199, 0.2567),
                 ticks_x_hepg2_bcd, ticks_y_hepg2_c, "%.2f", YLAB2, ("R² = 0.087", "p = 0.0032"),
                 (0.1318, 0.2521, 0.2479), 386, 351, (123, 14, 58, 63), (8, 12), (15, 5), 13, 95)
pd1 = make_panel("K562", d_k562 + d_k562_core, d_k562_fit_x, d_k562_fit_y, (0.1018, 0.3098), (0.1261, 0.3002),
                 ticks_x_k562_bcd, ticks_y_k562_d, "%.2f", YLAB2, ("R² = 0.653", "p <  2.20e−16"),
                 (0.1930, 0.1694, 0.1475), 355, 342, (102, 5, 63, 49), (6, 26), (8, -3), 27, 108)
pd2 = make_panel("HepG2", d_hepg2 + d_hepg2_core, d_hepg2_fit_x, d_hepg2_fit_y, (0.1189, 0.2764), (0.1401, 0.2697),
                 ticks_x_hepg2_bcd, ticks_y_hepg2_d, "%.2f", YLAB2, ("R² = 0.454", "p < 2.20e−16"),
                 (0.1797, 0.1682, 0.1528), 386, 342, (126, 12, 63, 49), (11, 12), (8, -3), 17, 94)

layout = row(strip, column(row(pa1, pa2), row(pb1, pb2), row(pc1, pc2), row(pd1, pd2)))
open("out.html", "w").write(file_html(layout, INLINE, title="Editing level scatter plots"))
